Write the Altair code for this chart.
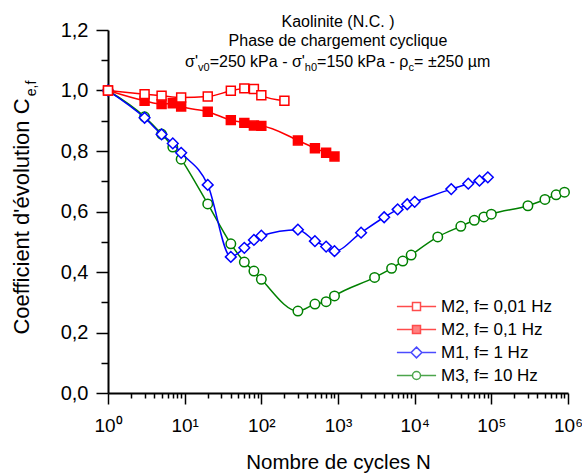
import altair as alt
import pandas as pd

# ---------------- data ----------------
series_names = ["M2, f= 0,01 Hz", "M2, f= 0,1 Hz", "M1, f= 1 Hz", "M3, f= 10 Hz"]

N_m2_001 = [1, 3, 5, 9, 20, 40, 60, 80, 100, 200]
C_m2_001 = [1.0, 0.988, 0.983, 0.977, 0.980, 0.999, 1.007, 1.005, 0.984, 0.966]

N_m2_01 = [1, 3, 5, 7, 9, 20, 40, 60, 80, 100, 300, 500, 700, 900]
C_m2_01 = [1.0, 0.966, 0.955, 0.958, 0.947, 0.930, 0.902, 0.893, 0.884, 0.883,
           0.835, 0.809, 0.794, 0.782]

N_m1 = [1, 3, 5, 7, 9, 20, 40, 60, 80, 100, 300, 500, 700, 900, 2000, 4000,
        6000, 8000, 10000, 30000, 50000, 70000, 90000]
C_m1 = [1.0, 0.910, 0.855, 0.825, 0.794, 0.688, 0.450, 0.480, 0.506, 0.520,
        0.540, 0.502, 0.484, 0.469, 0.530, 0.581, 0.607, 0.624, 0.632, 0.674,
        0.692, 0.702, 0.713]

N_m3 = [1, 3, 5, 7, 9, 20, 40, 60, 80, 100, 300, 500, 700, 900, 3000, 5000,
        7000, 9000, 20000, 40000, 60000, 80000, 100000, 300000, 500000,
        700000, 900000]
C_m3 = [1.0, 0.913, 0.856, 0.813, 0.773, 0.625, 0.493, 0.433, 0.403, 0.376,
        0.271, 0.294, 0.302, 0.321, 0.382, 0.412, 0.436, 0.456, 0.516, 0.551,
        0.571, 0.582, 0.591, 0.619, 0.640, 0.655, 0.664]

x_major = [1, 10, 100, 1000, 10000, 100000, 1000000]
x_minor_mult = [2, 3, 4, 5, 6, 7, 8, 9]
y_ticks = [0.0, 0.1, 0.2, 0.3, 0.4, 0.5, 0.6, 0.7, 0.8, 0.9, 1.0, 1.1, 1.2]

# ---------------- style ----------------
FONT = "Liberation Sans"
colors = ["#ff0000", "#ff0000", "#0000ff", "#008000"]
fills = ["white", "#ff0000", "white", "white"]
shapes = ["square", "square", "diamond", "circle"]
sizes = [80, 80, 115, 90]
Ns = [N_m2_001, N_m2_01, N_m1, N_m3]
Cs = [C_m2_001, C_m2_01, C_m1, C_m3]

W, H = 460, 363

x_ticks = sorted(x_major + [m * d for d in x_major[:-1] for m in x_minor_mult])
is_pow = "abs(log(datum.value)/LN10 - round(log(datum.value)/LN10)) < 0.001"
x_axis = alt.Axis(
    values=x_ticks,
    title="Nombre de cycles N",
    labelExpr=f"{is_pow} ? '10' + ['\u2070','\u00b9','\u00b2','\u00b3','\u2074','\u2075','\u2076'][round(log(datum.value)/LN10)] : ''",
    tickSize={"condition": {"test": is_pow, "value": 11}, "value": 5},
    labelPadding=12,
    labelFontSize=19,
    labelOverlap=False,
    labelFlush=False,
    titleFontSize=20.5,
    titleY=75,
    titleBaseline="alphabetic",
)
is_major_y = "abs(datum.value*5 - round(datum.value*5)) < 0.001"
y_axis = alt.Axis(
    values=y_ticks,
    title="Coefficient d'\u00e9volution C",
    labelExpr=f"{is_major_y} ? replace(format(datum.value, '.1f'), '.', ',') : ''",
    tickSize={"condition": {"test": is_major_y, "value": 12}, "value": 7},
    labelPadding=8,
    labelFontSize=20,
    labelOverlap=False,
    labelFlush=False,
    titleFontSize=22,
    titleAngle=270,
    titleX=-80,
    titleY=186,
    titleBaseline="alphabetic",
)
x_scale = alt.Scale(type="log", domain=[1, 1000000], nice=False)
y_scale = alt.Scale(domain=[0, 1.2], nice=False, zero=False)

layers = []
for i in [3, 2, 1, 0]:
    df = pd.DataFrame({"N": Ns[i], "C": Cs[i]})
    base = alt.Chart(df).encode(
        x=alt.X("N:Q", scale=x_scale, axis=x_axis),
        y=alt.Y("C:Q", scale=y_scale, axis=y_axis),
    )
    layers.append(base.mark_line(color=colors[i], strokeWidth=1.5, interpolate="monotone"))
    layers.append(base.mark_point(shape=shapes[i], size=sizes[i], filled=True,
                                  fill=fills[i], stroke=colors[i], strokeWidth=1.5,
                                  opacity=1))

# legend (line + marker symbols) from an empty layer with explicit scales
leg_paths = [
    "M-4.9,0L-1,0M1,0L4.9,0M-1,-1L1,-1L1,1L-1,1Z",
    "M-4.9,0L-1,0M1,0L4.9,0M-1,-1L1,-1L1,1L-1,1Z",
    "M-4.9,0L-1.35,0M1.35,0L4.9,0M0,-1.35L1.35,0L0,1.35L-1.35,0Z",
    "M-4.9,0L-1,0M1,0L4.9,0M-1,0A1,1 0 1,1 1,0A1,1 0 1,1 -1,0Z",
]
legend = alt.Legend(title=None, orient="none", legendX=300, legendY=268,
                    symbolSize=64, symbolStrokeWidth=1.5, labelFontSize=17,
                    labelFont=FONT, labelColor="black", labelOffset=16,
                    rowPadding=5, labelLimit=0, padding=0)
leg_df = pd.DataFrame({"serie": series_names})
legend_layer = alt.Chart(leg_df).transform_filter("false").mark_point(
    filled=False, strokeWidth=1.5
).encode(
    shape=alt.Shape("serie:N", scale=alt.Scale(domain=series_names, range=leg_paths), legend=legend),
    stroke=alt.Stroke("serie:N", scale=alt.Scale(domain=series_names, range=colors), legend=legend),
    fill=alt.Fill("serie:N", scale=alt.Scale(domain=series_names, range=fills), legend=legend),
)
layers.append(legend_layer)

# title lines
title_lines = ["Kaolinite (N.C. )", "Phase de chargement cyclique"]
title_y = [-3.5, 15.5]
for t, yy in zip(title_lines, title_y):
    layers.append(alt.Chart(pd.DataFrame({"t": [t]})).mark_text(
        font=FONT, fontSize=16, align="center", baseline="alphabetic", color="black"
    ).encode(text="t:N", x=alt.value(W / 2), y=alt.value(yy)))

# third title line with subscripts
AW = {"\u03c3": 617, "'": 191, "=": 584, "0": 556, "1": 556, "2": 556, "5": 556,
      " ": 278, "k": 500, "P": 667, "a": 556, "-": 333, "h": 556, "\u03c1": 578,
      "\u00b1": 584, "\u00b5": 576, "m": 833, "v": 500, "c": 500}
segs = [("\u03c3'", False), ("v0", True), ("=250 kPa - \u03c3'", False), ("h0", True),
        ("=150 kPa - \u03c1", False), ("c", True), ("= \u00b1250 \u00b5m", False)]
MAIN, SUB = 16, 11
widths = [sum(AW.get(ch, 556) for ch in s) / 1000 * (SUB if sub else MAIN) for s, sub in segs]
xpos = W / 2 - sum(widths) / 2
for (s, sub), w in zip(segs, widths):
    layers.append(alt.Chart(pd.DataFrame({"t": [s]})).mark_text(
        font=FONT, fontSize=SUB if sub else MAIN, align="left", baseline="alphabetic",
        color="black"
    ).encode(text="t:N", x=alt.value(xpos), y=alt.value(40.5 if sub else 36.5)))
    xpos += w

# subscript of the y title
layers.append(alt.Chart(pd.DataFrame({"t": ["e,f"]})).mark_text(
    font=FONT, fontSize=14, align="center", baseline="alphabetic", angle=270,
    color="black"
).encode(text="t:N", x=alt.value(-72), y=alt.value(58.5)))

chart = alt.layer(*layers).properties(
    width=W, height=H,
    autosize=alt.AutoSizeParams(type="none"),
    padding={"left": 108, "top": 30, "right": 14, "bottom": 80},
).configure_view(stroke=None).configure_axis(
    domainColor="black", domainWidth=2, tickColor="black", tickWidth=1.5,
    labelColor="black", titleColor="black", grid=False,
    labelFont=FONT, titleFont=FONT, titleFontWeight="normal",
)

chart.save("out.html", embed_options={"renderer": "svg", "actions": False})
